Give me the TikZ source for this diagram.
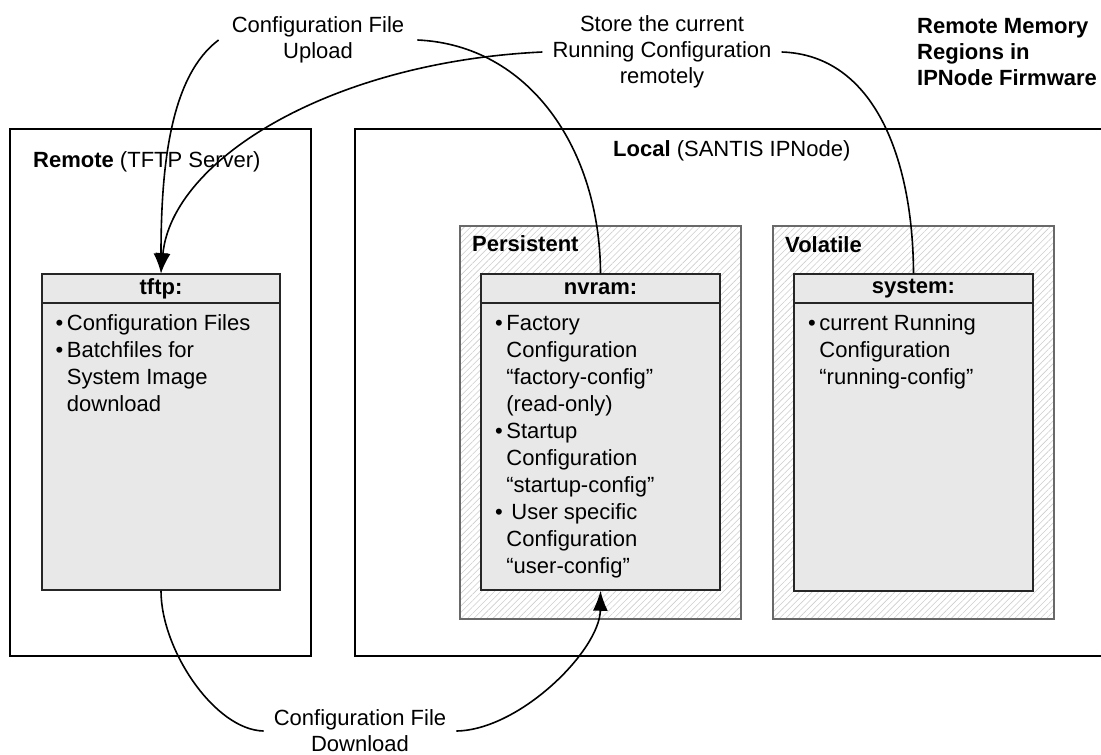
\documentclass[tikz,border=0pt]{standalone}
\usepackage{fontspec}
\setmainfont{Liberation Sans}
\usetikzlibrary{arrows.meta,patterns.meta}

\definecolor{boxgray}{RGB}{232,232,232}
\definecolor{hatchgray}{RGB}{205,205,205}
\definecolor{rimgray}{RGB}{105,105,105}

\newcommand{\itemtable}[1]{\begin{tabular}{@{}l@{\hspace{3.5pt}}l@{}}#1\end{tabular}}

\begin{document}
\begin{tikzpicture}[x=1pt,y=-1pt,
	font=\fontsize{22}{27}\selectfont,
	area/.style={draw, line width=2.4pt, inner sep=0pt},
	region/.style={draw=rimgray, line width=1.3pt, inner sep=0pt,
		pattern={Lines[angle=45,distance=4.5pt,line width=0.6pt]}, pattern color=hatchgray},
	membox/.style={draw=black!85, line width=1.5pt, fill=boxgray, inner sep=0pt},
	memhead/.style={membox, minimum height=29pt, font=\fontsize{22}{27}\selectfont\bfseries},
	memlist/.style={anchor=north west, inner sep=0pt},
	caption/.style={anchor=west, inner sep=0pt},
	note/.style={align=center, inner xsep=10pt, inner ysep=0pt, font=\fontsize{22}{26}\selectfont},
	flow/.style={line width=1.6pt},
	>={Latex[length=20pt,width=15pt]}]

	\useasboundingbox (0,0) rectangle (1101,755);

	\node[area, minimum width=301pt, minimum height=527pt] (remote) at (160.5,392.5) {};
	\node[area, minimum width=755pt, minimum height=527pt] (local) at (732.5,392.5) {};
	\node[caption] (remotelbl) at (33,162) {\textbf{Remote} (TFTP Server)};
	\node[caption] (locallbl) at (613,151) {\textbf{Local} (SANTIS IPNode)};

	\node[region, minimum width=281pt, minimum height=393pt] (persistent) at (600.5,422.5) {};
	\node[region, minimum width=281pt, minimum height=393pt] (volatile) at (913.5,422.5) {};
	\node[caption, font=\fontsize{22}{27}\selectfont\bfseries] (persistentlbl) at (472,244) {Persistent};
	\node[caption, font=\fontsize{22}{27}\selectfont\bfseries] (volatilelbl) at (785,245) {Volatile};

	\node[membox, minimum width=238pt, minimum height=316pt] (tftp) at (161,432) {};
	\node[memhead, minimum width=238pt, anchor=north] (tftphead) at (tftp.north) {tftp:};
	\node[membox, minimum width=239pt, minimum height=316pt] (nvram) at (600.5,432) {};
	\node[memhead, minimum width=239pt, anchor=north] (nvramhead) at (nvram.north) {nvram:};
	\node[membox, minimum width=239pt, minimum height=317pt] (system) at (913.5,432.5) {};
	\node[memhead, minimum width=239pt, anchor=north] (systemhead) at (system.north) {system:};

	\node[memlist] (tftplist) at (55.5,311) {\itemtable{%
		\textbullet & Configuration Files\\
		\textbullet & Batchfiles for\\
		& System Image\\
		& download}};
	\node[memlist] (nvramlist) at (495,311) {\itemtable{%
		\textbullet & Factory\\
		& Configuration\\
		& “factory-config”\\
		& (read-only)\\
		\textbullet & Startup\\
		& Configuration\\
		& “startup-config”\\
		\textbullet & \hspace{5pt}User specific\\
		& Configuration\\
		& “user-config”}};
	\node[memlist] (systemlist) at (808,311) {\itemtable{%
		\textbullet & current Running\\
		& Configuration\\
		& “running-config”}};

	\node[note, inner xsep=13pt] (upload) at (318,40) {Configuration File\\Upload};
	\node[note] (store) at (662,52) {Store the current\\Running Configuration\\remotely};
	\node[note] (download) at (360,731) {Configuration File\\Download};
	\node[anchor=north west, inner sep=0pt, align=left, font=\fontsize{22}{26}\selectfont\bfseries] (firmware) at (917,18) {Remote Memory\\Regions in\\IPNode Firmware};

	\draw[flow] (nvram.north) .. controls (600,150) and (530,45) .. (upload.east);
	\draw[flow,->] (upload.west) .. controls (172,75) and (161,160) .. (tftp.north);
	\draw[flow] (system.north) .. controls (913,160) and (875,55) .. (store.east);
	\draw[flow,->] (store.west) .. controls (330,62) and (172,160) .. (tftp.north);
	\draw[flow] (tftp.south) .. controls (161,650) and (215,730) .. (download.west);
	\draw[flow,->] (download.east) .. controls (520,730) and (600,650) .. (nvram.south);

\end{tikzpicture}
\end{document}
